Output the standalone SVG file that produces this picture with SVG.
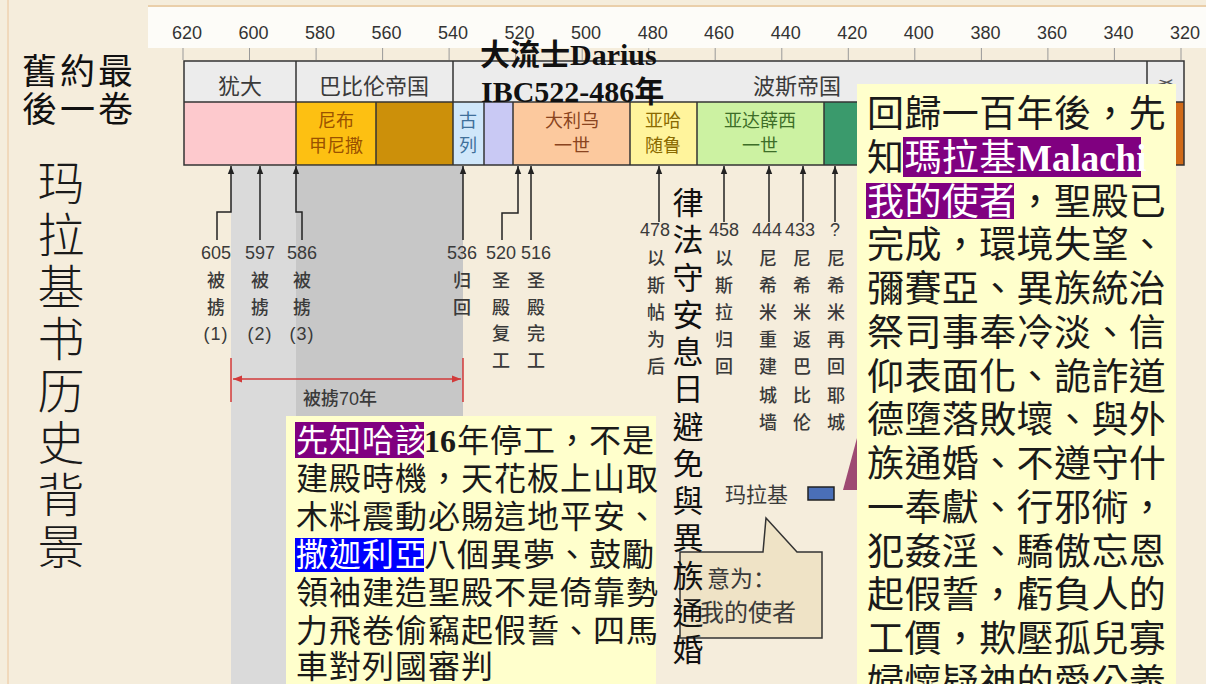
<svg xmlns="http://www.w3.org/2000/svg" width="1206" height="684" viewBox="0 0 1206 684">
<defs>
<style>
.axis{font-family:'Liberation Sans',sans-serif;font-size:18px;fill:#333;text-anchor:middle}
.hdr{font-family:'Noto Sans CJK SC',sans-serif;font-size:22px;fill:#3a3a3a;text-anchor:middle}
.cell{font-family:'Noto Sans CJK SC',sans-serif;font-size:18px;text-anchor:middle}
.lbl{font-family:'Liberation Sans','Noto Sans CJK SC',sans-serif;font-size:18px;fill:#3a3a3a;text-anchor:middle;font-weight:500}
.cjk{font-family:'Noto Sans CJK TC','Noto Sans CJK SC',sans-serif}
.ser{font-family:'Liberation Serif','Noto Sans CJK TC',serif;font-weight:bold}
.box{fill:#ffffcc}
.conn{fill:none;stroke:#222;stroke-width:1.5}
.tk{stroke:#999;stroke-width:1}
.bd{fill:none;stroke:#333;stroke-width:1.5}
.red{fill:none;stroke:#d23a3a;stroke-width:1.5}
.wt{fill:#fff}
</style>
<marker id="ah" viewBox="0 0 10 8" refX="10" refY="4" markerWidth="8" markerHeight="8" markerUnits="userSpaceOnUse" orient="auto-start-reverse"><path d="M0,0 L10,4 L0,8 z" fill="#222"/></marker>
<marker id="rh" viewBox="0 0 10 8" refX="10" refY="4" markerWidth="9" markerHeight="9" markerUnits="userSpaceOnUse" orient="auto-start-reverse"><path d="M0,0 L10,4 L0,8 z" fill="#d23a3a"/></marker>
</defs>

<!-- background -->
<rect x="0" y="0" width="1206" height="684" fill="#f5eddc"/>
<rect x="148" y="7" width="1058" height="41" fill="#fdfcf8"/>
<line x1="148" y1="6" x2="1206" y2="6" stroke="#e6c49a" stroke-width="1.5"/>
<line x1="8" y1="0" x2="8" y2="684" stroke="#ecc49a" stroke-width="1"/>

<!-- axis -->
<g id="axis">
<g class="tk">
<line x1="183" y1="48" x2="183" y2="60"/><line x1="249.5" y1="48" x2="249.5" y2="60"/><line x1="316.1" y1="48" x2="316.1" y2="60"/><line x1="382.6" y1="48" x2="382.6" y2="60"/><line x1="449.1" y1="48" x2="449.1" y2="60"/><line x1="515.7" y1="48" x2="515.7" y2="60"/><line x1="582.2" y1="48" x2="582.2" y2="60"/><line x1="648.7" y1="48" x2="648.7" y2="60"/><line x1="715.2" y1="48" x2="715.2" y2="60"/><line x1="781.8" y1="48" x2="781.8" y2="60"/><line x1="848.3" y1="48" x2="848.3" y2="60"/><line x1="914.8" y1="48" x2="914.8" y2="60"/><line x1="981.4" y1="48" x2="981.4" y2="60"/><line x1="1047.9" y1="48" x2="1047.9" y2="60"/><line x1="1114.4" y1="48" x2="1114.4" y2="60"/><line x1="1181" y1="48" x2="1181" y2="60"/>
</g>
<text class="axis" x="187" y="39">620</text><text class="axis" x="253.5" y="39">600</text><text class="axis" x="320" y="39">580</text><text class="axis" x="386.5" y="39">560</text><text class="axis" x="453" y="39">540</text><text class="axis" x="519.5" y="39">520</text><text class="axis" x="586" y="39">500</text><text class="axis" x="652.7" y="39">480</text><text class="axis" x="719" y="39">460</text><text class="axis" x="785.8" y="39">440</text><text class="axis" x="852.3" y="39">420</text><text class="axis" x="918.8" y="39">400</text><text class="axis" x="985.4" y="39">380</text><text class="axis" x="1052" y="39">360</text><text class="axis" x="1118.4" y="39">340</text><text class="axis" x="1185" y="39">320</text>
</g>

<!-- gray exile bands -->
<rect x="231" y="166" width="65" height="518" fill="#dadada"/>
<rect x="296" y="166" width="167" height="250" fill="#c7c7c7"/>

<!-- timeline table -->
<g id="timeline">
<rect x="184" y="61" width="1000" height="41" fill="#ececec"/>
<g id="cell-judah"><rect x="184" y="102" width="112" height="63" fill="#fdc9cd"/><text class="hdr" x="240" y="94">犹大</text></g>
<g id="cell-babylon"><text class="hdr" x="374" y="94">巴比伦帝国</text></g>
<g id="cell-persia"><text class="hdr" x="797" y="94">波斯帝国</text></g>
<g id="cell-greece"><text x="1166" y="97" font-family="'Noto Sans CJK SC',sans-serif" font-size="20" fill="#555" text-anchor="middle">希</text></g>
<g id="cell-neb"><rect x="296" y="102" width="80" height="63" fill="#fdc012"/><text class="cell" x="336" y="127" fill="#9a5200">尼布</text><text class="cell" x="336" y="152" fill="#9a5200">甲尼撒</text></g>
<rect x="376" y="102" width="77" height="63" fill="#cc900a"/>
<g id="cell-cyrus"><rect x="453" y="102" width="31" height="63" fill="#d0e7fa"/><text class="cell" x="468" y="127" fill="#40709a">古</text><text class="cell" x="468" y="152" fill="#40709a">列</text></g>
<rect x="484" y="102" width="29" height="63" fill="#c9c9f4"/>
<g id="cell-darius"><rect x="513" y="102" width="117" height="63" fill="#fcc99e"/><text class="cell" x="572" y="127" fill="#8a4420">大利乌</text><text class="cell" x="572" y="152" fill="#8a4420">一世</text></g>
<g id="cell-xerxes"><rect x="630" y="102" width="67" height="63" fill="#fff49c"/><text class="cell" x="663" y="127" fill="#8a6a00">亚哈</text><text class="cell" x="663" y="152" fill="#8a6a00">随鲁</text></g>
<g id="cell-artax"><rect x="697" y="102" width="127" height="63" fill="#ccf2a2"/><text class="cell" x="760" y="127" fill="#3d6e28">亚达薛西</text><text class="cell" x="760" y="152" fill="#3d6e28">一世</text></g>
<rect x="824" y="102" width="323" height="63" fill="#3a9a6c"/>
<rect x="1147" y="102" width="37" height="63" fill="#d06a18"/>
<g class="bd">
<rect x="184" y="61" width="1000" height="104"/>
<line x1="184" y1="102" x2="1184" y2="102"/>
<line x1="296" y1="61" x2="296" y2="165"/>
<line x1="453" y1="61" x2="453" y2="165"/>
<line x1="1147" y1="61" x2="1147" y2="165"/>
<line x1="376" y1="102" x2="376" y2="165"/>
<line x1="484" y1="102" x2="484" y2="165"/>
<line x1="513" y1="102" x2="513" y2="165"/>
<line x1="630" y1="102" x2="630" y2="165"/>
<line x1="697" y1="102" x2="697" y2="165"/>
<line x1="824" y1="102" x2="824" y2="165"/>
</g>
</g>

<!-- connectors -->
<g id="connectors">
<g class="conn" marker-start="url(#ah)">
<path d="M231,166 V212 H217 V240"/>
<path d="M260,166 V240"/>
<path d="M296,166 V212 H302 V240"/>
<path d="M463,166 V240"/>
<path d="M518,166 V213 H502 V240"/>
<path d="M531,166 V240"/>
<path d="M659,166 V222"/>
<path d="M724,166 V222"/>
<path d="M769,166 V222"/>
<path d="M803,166 V222"/>
<path d="M835,166 V222"/>
</g>
<path class="red" d="M231,358 V402 M463,358 V402"/>
<path class="red" d="M233,379 H461" marker-start="url(#rh)" marker-end="url(#rh)"/>
</g>

<!-- event labels -->
<g id="ev-605"><text class="lbl" x="216" y="259">605</text><text class="lbl" x="216" y="287">被</text><text class="lbl" x="216" y="313.5">掳</text><text class="lbl" x="216" y="340" letter-spacing="1">(1)</text></g>
<g id="ev-597"><text class="lbl" x="260" y="259">597</text><text class="lbl" x="260" y="287">被</text><text class="lbl" x="260" y="313.5">掳</text><text class="lbl" x="260" y="340" letter-spacing="1">(2)</text></g>
<g id="ev-586"><text class="lbl" x="302" y="259">586</text><text class="lbl" x="302" y="287">被</text><text class="lbl" x="302" y="313.5">掳</text><text class="lbl" x="302" y="340" letter-spacing="1">(3)</text></g>
<g id="ev-536"><text class="lbl" x="462" y="259">536</text><text class="lbl" x="462" y="287">归</text><text class="lbl" x="462" y="313.5">回</text></g>
<g id="ev-520"><text class="lbl" x="501" y="259">520</text><text class="lbl" x="501" y="287">圣</text><text class="lbl" x="501" y="313.5">殿</text><text class="lbl" x="501" y="340">复</text><text class="lbl" x="501" y="366.5">工</text></g>
<g id="ev-516"><text class="lbl" x="536" y="259">516</text><text class="lbl" x="536" y="287">圣</text><text class="lbl" x="536" y="313.5">殿</text><text class="lbl" x="536" y="340">完</text><text class="lbl" x="536" y="366.5">工</text></g>
<g id="ev-70"><text class="lbl" x="340" y="405">被掳70年</text></g>
<g id="ev-478"><text class="lbl" x="655" y="236">478</text><text class="lbl" x="656" y="265">以</text><text class="lbl" x="656" y="292">斯</text><text class="lbl" x="656" y="319">帖</text><text class="lbl" x="656" y="346">为</text><text class="lbl" x="656" y="373">后</text></g>
<g id="ev-458"><text class="lbl" x="724" y="236">458</text><text class="lbl" x="724" y="265">以</text><text class="lbl" x="724" y="292">斯</text><text class="lbl" x="724" y="319">拉</text><text class="lbl" x="724" y="346">归</text><text class="lbl" x="724" y="373">回</text></g>
<g id="ev-444"><text class="lbl" x="767" y="236">444</text><text class="lbl" x="768" y="265">尼</text><text class="lbl" x="768" y="292">希</text><text class="lbl" x="768" y="319">米</text><text class="lbl" x="768" y="346">重</text><text class="lbl" x="768" y="373">建</text><text class="lbl" x="768" y="402">城</text><text class="lbl" x="768" y="429">墙</text></g>
<g id="ev-433"><text class="lbl" x="800" y="236">433</text><text class="lbl" x="802" y="265">尼</text><text class="lbl" x="802" y="292">希</text><text class="lbl" x="802" y="319">米</text><text class="lbl" x="802" y="346">返</text><text class="lbl" x="802" y="373">巴</text><text class="lbl" x="802" y="402">比</text><text class="lbl" x="802" y="429">伦</text></g>
<g id="ev-q"><text class="lbl" x="835" y="236">?</text><text class="lbl" x="836" y="265">尼</text><text class="lbl" x="836" y="292">希</text><text class="lbl" x="836" y="319">米</text><text class="lbl" x="836" y="346">再</text><text class="lbl" x="836" y="373">回</text><text class="lbl" x="836" y="402">耶</text><text class="lbl" x="836" y="429">城</text></g>

<!-- legend and callout -->
<g id="legend-malachi"><text x="725" y="502" font-family="'Noto Sans CJK SC',sans-serif" font-size="21" fill="#3a3a3a">玛拉基</text><rect x="808" y="487" width="26" height="13" fill="#4a6fb8" stroke="#222" stroke-width="1.5"/></g>
<g id="callout"><path d="M680,552 H763 L766,518 L797,552 H822 V638 H680 Z" fill="#efe3c6" stroke="#333" stroke-width="1.5"/><text x="707" y="587" font-family="'Noto Sans CJK SC',sans-serif" font-size="23" fill="#3a3a3a">意为：</text><text x="700" y="621" font-family="'Noto Sans CJK SC',sans-serif" font-size="24" fill="#3a3a3a">我的使者</text></g>
<polygon id="shape-tri" points="857,438 843,490 857,490" fill="#9e4a72"/>

<!-- Darius note -->
<g id="note-darius"><text class="ser" x="480" y="65" font-size="30" fill="#111">大流士Darius</text><text class="ser" x="481" y="102" font-size="30" fill="#111">IBC522-486年</text></g>

<!-- left titles -->
<g id="title-small" class="cjk" font-size="35" fill="#111" letter-spacing="3"><text x="22" y="84">舊約最</text><text x="22" y="122">後一卷</text></g>
<g id="title-vertical" font-family="'Noto Sans CJK SC',sans-serif" font-size="47" font-weight="300" fill="#1a1a1a" text-anchor="middle">
<text x="61" y="200">玛</text><text x="61" y="252">拉</text><text x="61" y="304">基</text><text x="61" y="356">书</text><text x="61" y="408">历</text><text x="61" y="460">史</text><text x="61" y="512">背</text><text x="61" y="564">景</text>
</g>

<!-- Haggai / Zechariah box -->
<g id="box-haggai">
<rect class="box" x="286" y="416" width="370" height="268"/>
<rect x="295" y="422" width="129" height="36" fill="#800080"/>
<rect x="295" y="538" width="129" height="34" fill="#0000ff"/>
<g class="cjk" font-size="32" fill="#1a1a1a" letter-spacing="1">
<text x="296" y="452"><tspan class="wt">先知哈該</tspan></text>
<text class="ser" x="424" y="452" font-size="32" letter-spacing="0">16</text>
<text x="457" y="452">年停工，不是</text>
<text x="296" y="490">建殿時機，天花板上山取</text>
<text x="296" y="528">木料震動必賜這地平安、</text>
<text x="296" y="566"><tspan class="wt">撒迦利亞</tspan></text>
<text x="424" y="566">八個異夢、鼓勵</text>
<text x="296" y="604">領袖建造聖殿不是倚靠勢</text>
<text x="296" y="642">力飛卷偷竊起假誓、四馬</text>
<text x="296" y="678">車對列國審判</text>
</g>
</g>

<!-- vertical law text -->
<g id="note-law" font-family="'Noto Sans CJK TC','Noto Sans CJK SC',sans-serif" font-size="31" fill="#111" text-anchor="middle">
<text x="688" y="214">律</text><text x="688" y="251">法</text><text x="688" y="288.5">守</text><text x="688" y="326">安</text><text x="688" y="363">息</text><text x="688" y="400">日</text><text x="688" y="437.5">避</text><text x="688" y="475">免</text><text x="688" y="512">與</text><text x="688" y="549">異</text><text x="688" y="586.5">族</text><text x="688" y="624">通</text><text x="688" y="661">婚</text>
</g>

<!-- Malachi box -->
<g id="box-malachi">
<rect class="box" x="857" y="84" width="319" height="600"/>
<rect x="903" y="137" width="238" height="40" fill="#800080"/>
<rect x="866" y="183" width="148" height="36" fill="#800080"/>
<g class="cjk" font-size="37" fill="#1a1a1a" letter-spacing="0.4">
<text x="867" y="127">回歸一百年後，先</text>
<text x="867" y="171">知</text>
<text x="904.4" y="171" class="wt">瑪拉基</text>
<text class="ser wt" x="1017" y="171" font-size="37" letter-spacing="0">Malachi</text>
<text x="867" y="215" class="wt">我的使者</text>
<text x="1016.6" y="215">，聖殿已</text>
<text x="867" y="258">完成，環境失望、</text>
<text x="867" y="302">彌賽亞、異族統治</text>
<text x="867" y="346">祭司事奉冷淡、信</text>
<text x="867" y="390">仰表面化、詭詐道</text>
<text x="867" y="433">德墮落敗壞、與外</text>
<text x="867" y="477">族通婚、不遵守什</text>
<text x="867" y="521">一奉獻、行邪術，</text>
<text x="867" y="565">犯姦淫、驕傲忘恩</text>
<text x="867" y="608">起假誓，虧負人的</text>
<text x="867" y="652">工價，欺壓孤兒寡</text>
<text x="867" y="696">婦懷疑神的愛公義</text>
</g>
</g>
</svg>
